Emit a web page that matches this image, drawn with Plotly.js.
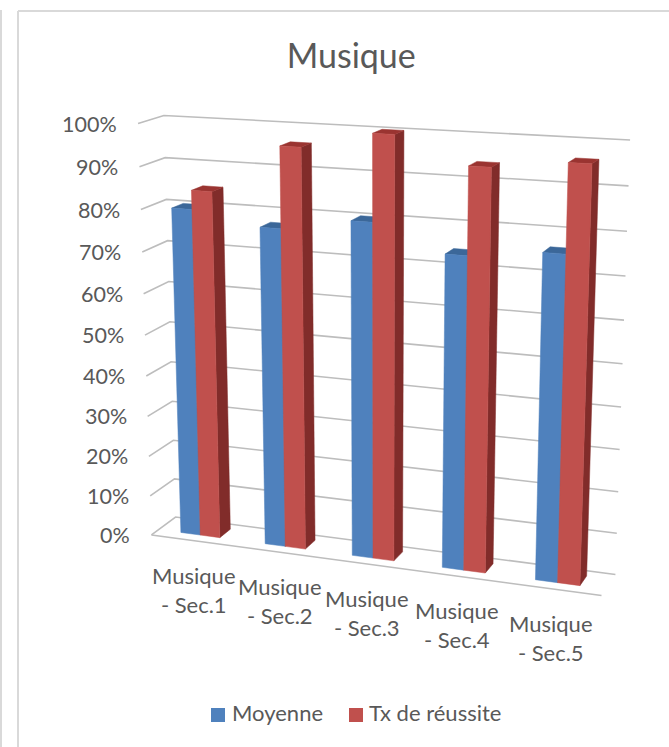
<!DOCTYPE html><html><head><script src="https://cdn.plot.ly/plotly-3.0.1.min.js"></script></head><body style="margin:0;background:#fff"><div id="c" style="width:669px;height:747px"></div><script>
const categories=['Musique<br>- Sec.1','Musique<br>- Sec.2','Musique<br>- Sec.3','Musique<br>- Sec.4','Musique<br>- Sec.5'];
const moyenne=[0.80,0.77,0.80,0.74,0.76];
const reussite=[0.845,0.96,1.0,0.94,0.96];
const tickValues=[0,0.1,0.2,0.3,0.4,0.5,0.6,0.7,0.8,0.9,1];
const tickLabels=['0%','10%','20%','30%','40%','50%','60%','70%','80%','90%','100%'];
const seriesNames=['Moyenne','Tx de réussite'];
// perspective camera of the 3-D plot box: box coordinates (u,v,w) -> chart position
const boxRefs=[[0,0,0,152,535],[1,0,0,602,595],[0,0,1,175,517],[1,0,1,615,575],[0,1,1,165,115],[1,1,1,630,140],[0,1,0,137,124]];
function solve(A,b){const n=b.length;A=A.map((r,i)=>[...r,b[i]]);for(let c=0;c<n;c++){let p=c;for(let r=c+1;r<n;r++)if(Math.abs(A[r][c])>Math.abs(A[p][c]))p=r;[A[c],A[p]]=[A[p],A[c]];for(let r=0;r<n;r++){if(r===c)continue;const f=A[r][c]/A[c][c];for(let k=c;k<=n;k++)A[r][k]-=f*A[c][k];}}return A.map((r,i)=>r[n]/r[i]);}
function fitCamera(){const M=[],y=[];boxRefs.forEach(([u,v,w,X,Y])=>{M.push([u,v,w,1,0,0,0,0,-X*u,-X*v,-X*w]);y.push(X);M.push([0,0,0,0,u,v,w,1,-Y*u,-Y*v,-Y*w]);y.push(Y);});
 const N=Array.from({length:11},(_,i)=>Array.from({length:11},(_,j)=>M.reduce((s,r)=>s+r[i]*r[j],0)));const t=Array.from({length:11},(_,i)=>M.reduce((s,r,k)=>s+r[i]*y[k],0));return solve(N,t);}
const P=fitCamera();
function proj(u,v,w){const d=P[8]*u+P[9]*v+P[10]*w+1;return [(P[0]*u+P[1]*v+P[2]*w+P[3])/d,(P[4]*u+P[5]*v+P[6]*w+P[7])/d];}
const traces=[];
function line(pts,color,width){traces.push({type:'scatter',mode:'lines',x:pts.map(p=>p[0]),y:pts.map(p=>p[1]),line:{color,width},showlegend:false,hoverinfo:'skip'});}
function face(pts,color){traces.push({type:'scatter',mode:'lines',x:[...pts.map(p=>p[0]),pts[0][0]],y:[...pts.map(p=>p[1]),pts[0][1]],fill:'toself',fillcolor:color,line:{color,width:0.5},showlegend:false,hoverinfo:'skip'});}
const gridColor='#bdbdbd';
tickValues.forEach(v=>{line([proj(0,v,0),proj(0,v,1),proj(1,v,1)],gridColor,1.6);});
line([proj(0,0,0),proj(1,0,0)],gridColor,1.6);
const n=categories.length, barW=0.233/n, w0=0.3, w1=0.76;
function bar(u0,u1,val,cf,ct,cs){
 face([proj(u1,0,w0),proj(u1,0,w1),proj(u1,val,w1),proj(u1,val,w0)],cs);
 face([proj(u0,val,w0),proj(u1,val,w0),proj(u1,val,w1),proj(u0,val,w1)],ct);
 face([proj(u0,0,w0),proj(u1,0,w0),proj(u1,val,w0),proj(u0,val,w0)],cf);
}
categories.forEach((c,i)=>{const m=(i+0.5)/n;
 bar(m-barW,m,moyenne[i],'#4F81BD','#3B6799','#335a87');
 bar(m,m+barW,reussite[i],'#C0504D','#9A3431','#812C2A');
});
const font='Lato, "Open Sans", sans-serif', ink='#595959';
const seriesColors=['#4F81BD','#C0504D'];
const legendSquareX=[218,356], legendTextX=[230,367], legendY=715;
seriesNames.forEach((s,i)=>traces.push({type:'scatter',mode:'markers',x:[legendSquareX[i]],y:[legendY],name:s,showlegend:false,marker:{symbol:'square',size:14,color:seriesColors[i]}}));
const annotations=[];
tickValues.forEach((v,i)=>{const p=proj(0,v,0);annotations.push({x:p[0]-19,y:p[1],xref:'x',yref:'y',text:tickLabels[i],showarrow:false,xanchor:'right',yanchor:'middle',font:{family:font,size:21.5,color:ink}});});
const labelNudge=[1,1,0,-1,-2];
categories.forEach((c,i)=>{const p=proj((i+0.5)/n,0,0);annotations.push({x:p[0]+labelNudge[i],y:p[1]+19,xref:'x',yref:'y',text:c,showarrow:false,xanchor:'center',yanchor:'top',align:'center',font:{family:font,size:22,color:ink}});});
seriesNames.forEach((s,i)=>annotations.push({x:legendTextX[i],y:legendY-3,xref:'x',yref:'y',text:s,showarrow:false,xanchor:'left',yanchor:'middle',font:{family:font,size:22,color:ink}}));
const edge=(x0,y0,x1,y1)=>({type:'line',xref:'x',yref:'y',x0,y0,x1,y1,line:{color:'#d9d9d9',width:2}});
Plotly.newPlot('c',traces,{width:669,height:747,margin:{l:0,r:0,t:0,b:0},paper_bgcolor:'#fff',plot_bgcolor:'#fff',
 title:{text:'Musique',x:0.525,xanchor:'center',y:0.925,yanchor:'middle',font:{family:font,size:34,color:ink}},
 xaxis:{range:[0,669],visible:false,fixedrange:true},yaxis:{range:[747,0],visible:false,fixedrange:true},
 showlegend:false,annotations,shapes:[edge(18,11,669,11),edge(18,11,18,747),edge(1,10,1,747)]},{displayModeBar:false,staticPlot:true});
</script></body></html>
